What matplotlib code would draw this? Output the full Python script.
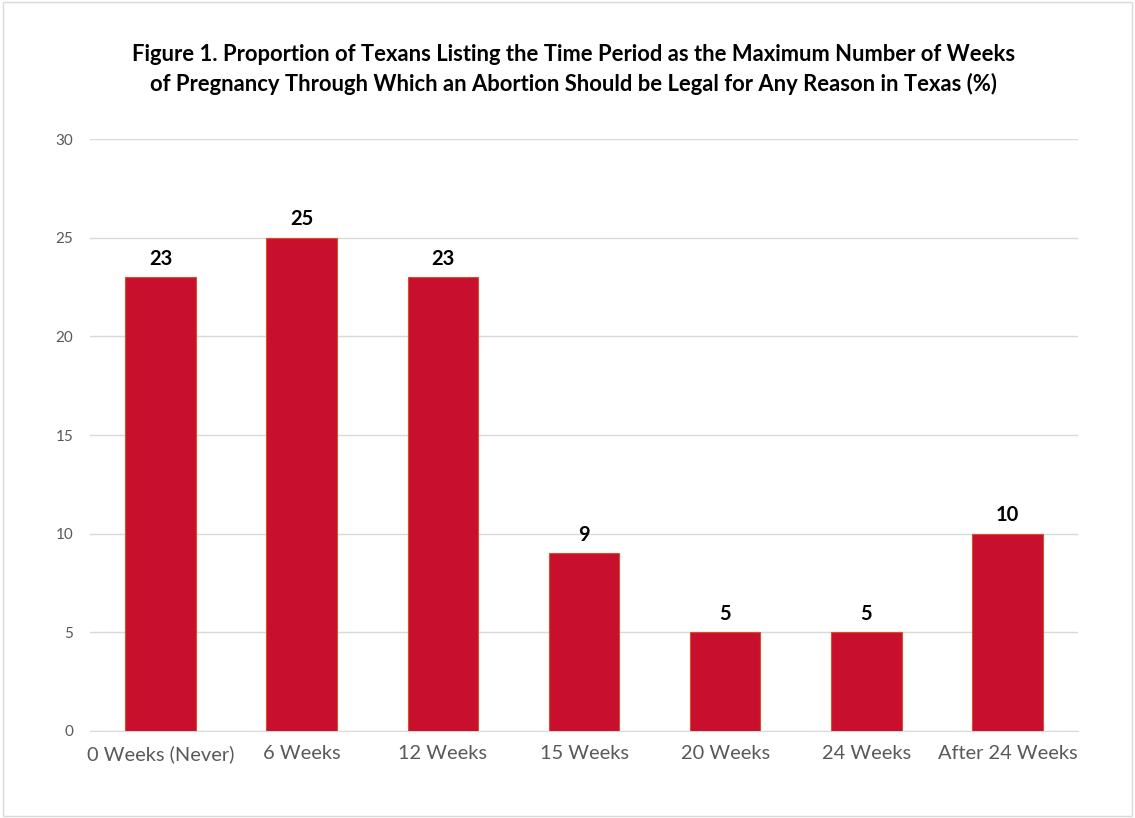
import matplotlib.pyplot as plt
from matplotlib.patches import Rectangle

categories = ["0 Weeks (Never)", "6 Weeks", "12 Weeks", "15 Weeks",
              "20 Weeks", "24 Weeks", "After 24 Weeks"]
shares = [23, 25, 23, 9, 5, 5, 10]
yticks = [0, 5, 10, 15, 20, 25, 30]

title = ("Figure 1. Proportion of Texans Listing the Time Period as the Maximum Number of Weeks\n"
         "of Pregnancy Through Which an Abortion Should be Legal for Any Reason in Texas (%)")

plt.rcParams["font.family"] = ["Lato", "DejaVu Sans"]

fig = plt.figure(figsize=(11.35, 8.18), dpi=100)
ax = fig.add_axes([0.0793, 0.1064, 0.8705, 0.7236])

x = range(len(categories))
bars = ax.bar(x, shares, width=0.5, color="#C8102E", edgecolor="#D2502A",
              linewidth=0.8, zorder=3)

for b, v in zip(bars, shares):
    ax.annotate(str(v), (b.get_x() + b.get_width() / 2, v), xytext=(0, 6),
                textcoords="offset points", ha="center", va="bottom",
                fontsize=14.5, fontweight="bold", color="black")

ax.set_xlim(-0.5, len(categories) - 0.5)
ax.set_ylim(0, 30)
ax.set_yticks(yticks)
ax.set_xticks(list(x))
ax.set_xticklabels(categories)
ax.grid(axis="y", color="#D9D9D9", linewidth=1, zorder=0)
for s in ["top", "right", "left"]:
    ax.spines[s].set_visible(False)
ax.spines["bottom"].set_color("#D9D9D9")
ax.tick_params(axis="both", length=0, colors="#595959")
ax.tick_params(axis="x", pad=10, labelsize=14.4)
ax.tick_params(axis="y", pad=12, labelsize=11)

fig.text(0.505, 0.915, title, ha="center", va="center", fontsize=15.8,
         fontweight="bold", color="black", linespacing=1.45)

fig.patches.append(Rectangle((0.003, 0.002), 0.994, 0.996, transform=fig.transFigure,
                             fill=False, edgecolor="#D9D9D9", linewidth=1))

fig.savefig("out.png", dpi=100, facecolor="white")
